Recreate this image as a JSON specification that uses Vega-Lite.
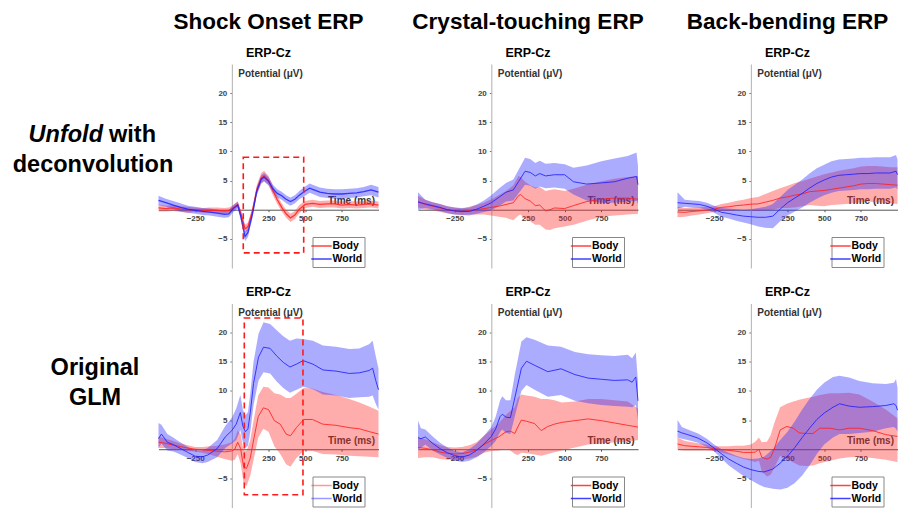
{
  "$schema": "https://vega.github.io/schema/vega-lite/v6.json",
  "background": "white",
  "padding": {"left": 0, "top": 11, "right": 0, "bottom": 0},
  "spacing": 17.5,
  "resolve": {"scale": {"stroke": "independent"}, "legend": {"stroke": "independent"}},
  "config": {
    "view": {"stroke": null},
    "font": "Liberation Sans",
    "title": {"font": "Liberation Sans", "fontSize": 22.5, "fontWeight": "bold", "color": "black", "subtitleFont": "Liberation Sans", "subtitleFontSize": 12.5, "subtitleFontWeight": "bold", "subtitleColor": "black", "subtitlePadding": 13, "offset": 5, "anchor": "middle", "frame": "group"},
    "axisX": {"offset": -58.29, "grid": false, "domainColor": "#555", "domainWidth": 1, "tickColor": "#555", "tickSize": 2, "labelFont": "Liberation Sans", "labelFontSize": 8, "labelFontWeight": "bold", "labelColor": "#444", "labelPadding": 3, "titleX": 216, "titleY": -9, "titleAlign": "right", "titleBaseline": "middle", "titleFont": "Liberation Sans", "titleFontSize": 10, "titleFontWeight": "bold", "titleColor": "#333", "zindex": 1},
    "axisY": {"offset": -73.33, "grid": false, "domainColor": "#b0b0b0", "domainWidth": 1, "tickColor": "#777", "tickSize": 2, "labelFont": "Liberation Sans", "labelFontSize": 8, "labelFontWeight": "bold", "labelColor": "#444", "labelPadding": 3, "titleAngle": 0, "titleX": 6, "titleY": 9, "titleAlign": "left", "titleBaseline": "middle", "titleFont": "Liberation Sans", "titleFontSize": 10, "titleFontWeight": "bold", "titleColor": "#333", "zindex": 1},
    "legend": {"orient": "none", "legendX": 154, "legendY": 173, "padding": 2, "strokeColor": "#888", "fillColor": "white", "labelFont": "Liberation Sans", "labelFontSize": 10.5, "labelFontWeight": "bold", "labelColor": "black", "labelOffset": 4, "symbolType": "M-1.7,0H1.7", "symbolSize": 144, "symbolStrokeWidth": 1.5, "rowPadding": 0}
  },
  "datasets": {
    "shockU": [
      {"c":"Body","t":-500,"m":0.3,"lo":-0.3,"hi":0.9},{"c":"Body","t":-450,"m":0.2,"lo":-0.3,"hi":0.7},{"c":"Body","t":-400,"m":0.3,"lo":-0.2,"hi":0.8},{"c":"Body","t":-350,"m":0.1,"lo":-0.4,"hi":0.6},{"c":"Body","t":-300,"m":0.0,"lo":-0.5,"hi":0.5},{"c":"Body","t":-250,"m":0.0,"lo":-0.4,"hi":0.4},{"c":"Body","t":-200,"m":-0.1,"lo":-0.5,"hi":0.3},{"c":"Body","t":-150,"m":-0.1,"lo":-0.5,"hi":0.4},{"c":"Body","t":-100,"m":-0.1,"lo":-0.6,"hi":0.4},{"c":"Body","t":-50,"m":-0.2,"lo":-0.7,"hi":0.3},{"c":"Body","t":-20,"m":-0.1,"lo":-0.6,"hi":0.4},{"c":"Body","t":10,"m":0.3,"lo":-0.2,"hi":0.8},{"c":"Body","t":40,"m":0.9,"lo":0.4,"hi":1.4},{"c":"Body","t":60,"m":-0.5,"lo":-1.1,"hi":0.1},{"c":"Body","t":90,"m":-3.3,"lo":-4.0,"hi":-2.6},{"c":"Body","t":110,"m":-2.9,"lo":-3.6,"hi":-2.2},{"c":"Body","t":140,"m":-0.3,"lo":-1.0,"hi":0.4},{"c":"Body","t":170,"m":3.4,"lo":2.6,"hi":4.2},{"c":"Body","t":200,"m":5.4,"lo":4.5,"hi":6.3},{"c":"Body","t":220,"m":5.8,"lo":4.9,"hi":6.7},{"c":"Body","t":250,"m":5.0,"lo":4.2,"hi":5.8},{"c":"Body","t":280,"m":3.3,"lo":2.5,"hi":4.1},{"c":"Body","t":310,"m":1.7,"lo":1.0,"hi":2.4},{"c":"Body","t":340,"m":0.4,"lo":-0.3,"hi":1.1},{"c":"Body","t":370,"m":-0.7,"lo":-1.4,"hi":0.0},{"c":"Body","t":400,"m":-1.4,"lo":-2.1,"hi":-0.7},{"c":"Body","t":430,"m":-0.9,"lo":-1.6,"hi":-0.2},{"c":"Body","t":460,"m":0.1,"lo":-0.6,"hi":0.8},{"c":"Body","t":500,"m":0.9,"lo":0.3,"hi":1.5},{"c":"Body","t":550,"m":1.1,"lo":0.5,"hi":1.7},{"c":"Body","t":600,"m":0.9,"lo":0.3,"hi":1.5},{"c":"Body","t":650,"m":1.0,"lo":0.4,"hi":1.6},{"c":"Body","t":700,"m":1.0,"lo":0.4,"hi":1.6},{"c":"Body","t":750,"m":0.8,"lo":0.2,"hi":1.4},{"c":"Body","t":800,"m":0.9,"lo":0.3,"hi":1.5},{"c":"Body","t":850,"m":0.8,"lo":0.2,"hi":1.4},{"c":"Body","t":900,"m":0.9,"lo":0.3,"hi":1.5},{"c":"Body","t":950,"m":1.0,"lo":0.4,"hi":1.6},{"c":"Body","t":1000,"m":0.8,"lo":0.2,"hi":1.4},
      {"c":"World","t":-500,"m":1.6,"lo":0.8,"hi":2.4},{"c":"World","t":-450,"m":1.2,"lo":0.5,"hi":1.9},{"c":"World","t":-400,"m":0.8,"lo":0.1,"hi":1.5},{"c":"World","t":-350,"m":0.4,"lo":-0.3,"hi":1.1},{"c":"World","t":-300,"m":0.1,"lo":-0.5,"hi":0.7},{"c":"World","t":-250,"m":-0.1,"lo":-0.7,"hi":0.5},{"c":"World","t":-200,"m":-0.3,"lo":-0.9,"hi":0.3},{"c":"World","t":-150,"m":-0.4,"lo":-1.0,"hi":0.2},{"c":"World","t":-100,"m":-0.6,"lo":-1.2,"hi":0.0},{"c":"World","t":-50,"m":-0.8,"lo":-1.4,"hi":-0.2},{"c":"World","t":-20,"m":-0.7,"lo":-1.3,"hi":-0.1},{"c":"World","t":10,"m":0.2,"lo":-0.4,"hi":0.8},{"c":"World","t":40,"m":0.8,"lo":0.2,"hi":1.4},{"c":"World","t":60,"m":-1.0,"lo":-1.7,"hi":-0.3},{"c":"World","t":90,"m":-4.6,"lo":-5.4,"hi":-3.8},{"c":"World","t":110,"m":-3.9,"lo":-4.7,"hi":-3.1},{"c":"World","t":140,"m":-0.8,"lo":-1.5,"hi":-0.1},{"c":"World","t":170,"m":3.2,"lo":2.5,"hi":3.9},{"c":"World","t":200,"m":5.2,"lo":4.5,"hi":5.9},{"c":"World","t":220,"m":5.6,"lo":4.9,"hi":6.3},{"c":"World","t":250,"m":4.9,"lo":4.2,"hi":5.6},{"c":"World","t":280,"m":3.6,"lo":2.9,"hi":4.3},{"c":"World","t":310,"m":2.8,"lo":2.1,"hi":3.5},{"c":"World","t":340,"m":2.4,"lo":1.7,"hi":3.1},{"c":"World","t":370,"m":1.8,"lo":1.1,"hi":2.5},{"c":"World","t":400,"m":1.4,"lo":0.7,"hi":2.1},{"c":"World","t":430,"m":1.8,"lo":1.1,"hi":2.5},{"c":"World","t":460,"m":2.5,"lo":1.8,"hi":3.2},{"c":"World","t":500,"m":3.2,"lo":2.4,"hi":4.0},{"c":"World","t":530,"m":3.7,"lo":2.9,"hi":4.5},{"c":"World","t":560,"m":3.4,"lo":2.6,"hi":4.2},{"c":"World","t":600,"m":3.0,"lo":2.2,"hi":3.8},{"c":"World","t":650,"m":2.8,"lo":2.0,"hi":3.6},{"c":"World","t":700,"m":2.7,"lo":1.9,"hi":3.5},{"c":"World","t":750,"m":2.7,"lo":1.9,"hi":3.5},{"c":"World","t":800,"m":2.8,"lo":2.0,"hi":3.6},{"c":"World","t":850,"m":2.9,"lo":2.1,"hi":3.7},{"c":"World","t":900,"m":3.1,"lo":2.3,"hi":3.9},{"c":"World","t":950,"m":3.4,"lo":2.5,"hi":4.3},{"c":"World","t":1000,"m":3.0,"lo":2.1,"hi":3.9}
    ],
    "crystalU": [
      {"c":"Body","t":-500,"m":1.4,"lo":0.4,"hi":2.4},{"c":"Body","t":-450,"m":0.9,"lo":0.1,"hi":1.7},{"c":"Body","t":-400,"m":0.6,"lo":-0.1,"hi":1.3},{"c":"Body","t":-350,"m":0.3,"lo":-0.4,"hi":1.0},{"c":"Body","t":-300,"m":0.0,"lo":-0.6,"hi":0.6},{"c":"Body","t":-250,"m":-0.2,"lo":-0.8,"hi":0.4},{"c":"Body","t":-200,"m":-0.35,"lo":-0.9,"hi":0.2},{"c":"Body","t":-150,"m":-0.15,"lo":-0.8,"hi":0.5},{"c":"Body","t":-100,"m":0.0,"lo":-0.8,"hi":0.8},{"c":"Body","t":-50,"m":0.2,"lo":-0.8,"hi":1.2},{"c":"Body","t":0,"m":0.4,"lo":-1.0,"hi":1.8},{"c":"Body","t":50,"m":0.6,"lo":-1.2,"hi":2.5},{"c":"Body","t":100,"m":0.9,"lo":-1.4,"hi":3.2},{"c":"Body","t":150,"m":1.2,"lo":-1.8,"hi":4.2},{"c":"Body","t":185,"m":2.4,"lo":-1.0,"hi":5.8},{"c":"Body","t":200,"m":2.6,"lo":-0.8,"hi":5.6},{"c":"Body","t":230,"m":1.9,"lo":-1.6,"hi":4.8},{"c":"Body","t":265,"m":1.5,"lo":-2.0,"hi":4.2},{"c":"Body","t":300,"m":0.7,"lo":-2.6,"hi":3.8},{"c":"Body","t":330,"m":0.8,"lo":-2.6,"hi":3.9},{"c":"Body","t":370,"m":-0.2,"lo":-3.4,"hi":3.2},{"c":"Body","t":400,"m":0.0,"lo":-3.5,"hi":3.4},{"c":"Body","t":430,"m":0.3,"lo":-3.2,"hi":3.5},{"c":"Body","t":500,"m":0.2,"lo":-2.9,"hi":3.2},{"c":"Body","t":560,"m":0.7,"lo":-2.6,"hi":3.6},{"c":"Body","t":650,"m":1.4,"lo":-1.9,"hi":4.3},{"c":"Body","t":750,"m":1.8,"lo":-1.2,"hi":4.9},{"c":"Body","t":840,"m":2.0,"lo":-1.0,"hi":5.3},{"c":"Body","t":930,"m":2.0,"lo":-0.8,"hi":5.6},{"c":"Body","t":1000,"m":1.8,"lo":-0.7,"hi":5.8},
      {"c":"World","t":-500,"m":1.3,"lo":0.0,"hi":3.0},{"c":"World","t":-450,"m":1.0,"lo":0.3,"hi":1.7},{"c":"World","t":-400,"m":0.7,"lo":0.1,"hi":1.3},{"c":"World","t":-350,"m":0.4,"lo":-0.2,"hi":1.0},{"c":"World","t":-300,"m":0.0,"lo":-0.6,"hi":0.6},{"c":"World","t":-250,"m":-0.2,"lo":-0.8,"hi":0.4},{"c":"World","t":-200,"m":-0.3,"lo":-0.9,"hi":0.3},{"c":"World","t":-150,"m":-0.3,"lo":-1.0,"hi":0.4},{"c":"World","t":-100,"m":0.1,"lo":-0.7,"hi":0.9},{"c":"World","t":-50,"m":0.6,"lo":-0.4,"hi":1.6},{"c":"World","t":0,"m":1.2,"lo":-0.1,"hi":2.5},{"c":"World","t":50,"m":2.1,"lo":0.6,"hi":3.6},{"c":"World","t":100,"m":3.0,"lo":1.4,"hi":4.6},{"c":"World","t":150,"m":3.4,"lo":1.6,"hi":5.2},{"c":"World","t":185,"m":4.8,"lo":2.8,"hi":6.8},{"c":"World","t":230,"m":6.6,"lo":4.3,"hi":8.9},{"c":"World","t":265,"m":6.4,"lo":4.1,"hi":8.7},{"c":"World","t":300,"m":5.8,"lo":3.6,"hi":8.0},{"c":"World","t":330,"m":6.2,"lo":4.0,"hi":8.4},{"c":"World","t":370,"m":5.8,"lo":3.7,"hi":7.9},{"c":"World","t":430,"m":6.0,"lo":3.8,"hi":8.0},{"c":"World","t":500,"m":6.0,"lo":3.6,"hi":7.8},{"c":"World","t":560,"m":4.8,"lo":2.6,"hi":7.2},{"c":"World","t":650,"m":4.4,"lo":1.6,"hi":7.6},{"c":"World","t":750,"m":4.6,"lo":1.2,"hi":8.3},{"c":"World","t":840,"m":4.8,"lo":1.2,"hi":8.8},{"c":"World","t":930,"m":5.4,"lo":1.4,"hi":9.2},{"c":"World","t":990,"m":5.7,"lo":1.5,"hi":9.8},{"c":"World","t":1000,"m":4.3,"lo":1.0,"hi":7.5}
    ],
    "backU": [
      {"c":"Body","t":-500,"m":-0.4,"lo":-1.3,"hi":0.5},{"c":"Body","t":-450,"m":-0.45,"lo":-1.2,"hi":0.3},{"c":"Body","t":-400,"m":-0.3,"lo":-1.0,"hi":0.4},{"c":"Body","t":-350,"m":-0.2,"lo":-0.8,"hi":0.4},{"c":"Body","t":-300,"m":-0.05,"lo":-0.6,"hi":0.5},{"c":"Body","t":-250,"m":0.1,"lo":-0.4,"hi":0.6},{"c":"Body","t":-200,"m":0.4,"lo":-0.2,"hi":1.0},{"c":"Body","t":-150,"m":0.5,"lo":-0.2,"hi":1.2},{"c":"Body","t":-100,"m":0.7,"lo":-0.1,"hi":1.5},{"c":"Body","t":-50,"m":0.8,"lo":-0.1,"hi":1.7},{"c":"Body","t":0,"m":0.95,"lo":-0.1,"hi":2.0},{"c":"Body","t":50,"m":1.0,"lo":-0.2,"hi":2.2},{"c":"Body","t":100,"m":1.3,"lo":-0.1,"hi":2.7},{"c":"Body","t":150,"m":1.6,"lo":0.0,"hi":3.2},{"c":"Body","t":200,"m":2.0,"lo":0.3,"hi":3.7},{"c":"Body","t":250,"m":2.2,"lo":0.3,"hi":4.1},{"c":"Body","t":300,"m":2.5,"lo":0.4,"hi":4.6},{"c":"Body","t":350,"m":2.7,"lo":0.6,"hi":4.9},{"c":"Body","t":400,"m":3.1,"lo":0.8,"hi":5.3},{"c":"Body","t":450,"m":3.2,"lo":0.7,"hi":5.7},{"c":"Body","t":500,"m":3.3,"lo":0.6,"hi":6.1},{"c":"Body","t":550,"m":3.5,"lo":0.8,"hi":6.4},{"c":"Body","t":600,"m":3.7,"lo":0.9,"hi":6.7},{"c":"Body","t":650,"m":3.9,"lo":1.0,"hi":6.9},{"c":"Body","t":700,"m":4.1,"lo":1.1,"hi":7.1},{"c":"Body","t":750,"m":4.4,"lo":1.3,"hi":7.4},{"c":"Body","t":800,"m":4.5,"lo":1.4,"hi":7.5},{"c":"Body","t":850,"m":4.5,"lo":1.3,"hi":7.5},{"c":"Body","t":900,"m":4.4,"lo":1.2,"hi":7.4},{"c":"Body","t":950,"m":4.3,"lo":1.1,"hi":7.3},{"c":"Body","t":1000,"m":4.2,"lo":1.0,"hi":7.3},
      {"c":"World","t":-500,"m":1.2,"lo":0.2,"hi":3.0},{"c":"World","t":-450,"m":1.1,"lo":0.5,"hi":1.7},{"c":"World","t":-400,"m":1.0,"lo":0.4,"hi":1.6},{"c":"World","t":-350,"m":0.9,"lo":0.3,"hi":1.5},{"c":"World","t":-300,"m":0.6,"lo":0.0,"hi":1.2},{"c":"World","t":-250,"m":0.1,"lo":-0.5,"hi":0.7},{"c":"World","t":-200,"m":-0.45,"lo":-1.2,"hi":0.3},{"c":"World","t":-150,"m":-0.65,"lo":-1.5,"hi":0.2},{"c":"World","t":-100,"m":-0.9,"lo":-1.9,"hi":0.1},{"c":"World","t":-50,"m":-1.1,"lo":-2.2,"hi":0.0},{"c":"World","t":0,"m":-1.2,"lo":-2.5,"hi":0.1},{"c":"World","t":50,"m":-1.3,"lo":-2.9,"hi":0.3},{"c":"World","t":100,"m":-1.3,"lo":-3.1,"hi":0.5},{"c":"World","t":150,"m":-1.1,"lo":-3.2,"hi":1.0},{"c":"World","t":200,"m":0.1,"lo":-2.0,"hi":2.2},{"c":"World","t":250,"m":1.2,"lo":-1.0,"hi":3.4},{"c":"World","t":300,"m":2.0,"lo":-0.3,"hi":4.3},{"c":"World","t":350,"m":2.8,"lo":0.4,"hi":5.2},{"c":"World","t":400,"m":3.7,"lo":1.2,"hi":6.2},{"c":"World","t":450,"m":4.5,"lo":1.9,"hi":7.1},{"c":"World","t":500,"m":5.1,"lo":2.5,"hi":7.7},{"c":"World","t":550,"m":5.6,"lo":2.9,"hi":8.3},{"c":"World","t":600,"m":5.9,"lo":3.2,"hi":8.6},{"c":"World","t":650,"m":6.0,"lo":3.3,"hi":8.7},{"c":"World","t":700,"m":6.1,"lo":3.4,"hi":8.8},{"c":"World","t":750,"m":6.2,"lo":3.5,"hi":8.9},{"c":"World","t":800,"m":6.2,"lo":3.5,"hi":8.9},{"c":"World","t":850,"m":6.3,"lo":3.6,"hi":9.0},{"c":"World","t":900,"m":6.3,"lo":3.6,"hi":9.0},{"c":"World","t":950,"m":6.3,"lo":3.6,"hi":9.0},{"c":"World","t":990,"m":6.6,"lo":3.8,"hi":9.4},{"c":"World","t":1000,"m":6.0,"lo":3.4,"hi":8.6}
    ],
    "shockG": [
      {"c":"Body","t":-500,"m":1.2,"lo":0.2,"hi":2.2},{"c":"Body","t":-450,"m":1.0,"lo":0.2,"hi":1.8},{"c":"Body","t":-400,"m":0.7,"lo":0.0,"hi":1.4},{"c":"Body","t":-350,"m":0.45,"lo":-0.1,"hi":1.0},{"c":"Body","t":-300,"m":0.2,"lo":-0.3,"hi":0.7},{"c":"Body","t":-250,"m":0.0,"lo":-0.4,"hi":0.4},{"c":"Body","t":-200,"m":-0.1,"lo":-0.6,"hi":0.4},{"c":"Body","t":-150,"m":-0.2,"lo":-0.9,"hi":0.5},{"c":"Body","t":-100,"m":-0.35,"lo":-1.3,"hi":0.6},{"c":"Body","t":-50,"m":-0.45,"lo":-1.7,"hi":0.8},{"c":"Body","t":0,"m":-0.3,"lo":-2.0,"hi":1.2},{"c":"Body","t":20,"m":0.0,"lo":-1.8,"hi":1.8},{"c":"Body","t":40,"m":1.2,"lo":-0.8,"hi":3.2},{"c":"Body","t":60,"m":0.1,"lo":-2.4,"hi":2.6},{"c":"Body","t":80,"m":-3.0,"lo":-5.8,"hi":-0.2},{"c":"Body","t":100,"m":-3.3,"lo":-6.3,"hi":-0.3},{"c":"Body","t":125,"m":-1.6,"lo":-4.6,"hi":1.5},{"c":"Body","t":150,"m":1.8,"lo":-1.6,"hi":5.2},{"c":"Body","t":180,"m":5.6,"lo":2.0,"hi":9.2},{"c":"Body","t":215,"m":7.1,"lo":3.5,"hi":10.7},{"c":"Body","t":250,"m":6.8,"lo":3.0,"hi":10.6},{"c":"Body","t":290,"m":4.9,"lo":0.5,"hi":9.6},{"c":"Body","t":330,"m":4.3,"lo":-0.8,"hi":9.4},{"c":"Body","t":370,"m":2.6,"lo":-2.6,"hi":8.8},{"c":"Body","t":400,"m":2.3,"lo":-3.0,"hi":8.8},{"c":"Body","t":440,"m":3.7,"lo":-1.5,"hi":9.5},{"c":"Body","t":490,"m":5.1,"lo":-0.3,"hi":10.5},{"c":"Body","t":550,"m":5.1,"lo":-0.3,"hi":10.4},{"c":"Body","t":620,"m":4.3,"lo":-0.8,"hi":9.8},{"c":"Body","t":710,"m":4.1,"lo":-0.9,"hi":9.3},{"c":"Body","t":800,"m":3.7,"lo":-1.1,"hi":8.6},{"c":"Body","t":870,"m":3.5,"lo":-1.2,"hi":8.0},{"c":"Body","t":940,"m":3.0,"lo":-1.3,"hi":7.3},{"c":"Body","t":1000,"m":2.6,"lo":-1.4,"hi":6.6},
      {"c":"World","t":-500,"m":1.8,"lo":0.2,"hi":4.5},{"c":"World","t":-480,"m":2.6,"lo":1.0,"hi":4.2},{"c":"World","t":-440,"m":1.2,"lo":-0.2,"hi":2.6},{"c":"World","t":-400,"m":0.8,"lo":-0.4,"hi":2.0},{"c":"World","t":-370,"m":0.4,"lo":-0.7,"hi":1.5},{"c":"World","t":-300,"m":-0.55,"lo":-1.5,"hi":0.4},{"c":"World","t":-250,"m":-1.2,"lo":-2.2,"hi":-0.2},{"c":"World","t":-200,"m":-1.3,"lo":-2.4,"hi":-0.2},{"c":"World","t":-165,"m":-1.0,"lo":-2.2,"hi":0.2},{"c":"World","t":-100,"m":0.1,"lo":-1.4,"hi":1.6},{"c":"World","t":-45,"m":2.1,"lo":0.2,"hi":4.0},{"c":"World","t":0,"m":3.2,"lo":1.0,"hi":5.4},{"c":"World","t":30,"m":4.3,"lo":1.6,"hi":7.0},{"c":"World","t":58,"m":6.3,"lo":3.3,"hi":9.3},{"c":"World","t":75,"m":4.0,"lo":1.2,"hi":6.8},{"c":"World","t":92,"m":3.0,"lo":0.2,"hi":5.8},{"c":"World","t":110,"m":3.5,"lo":0.6,"hi":6.4},{"c":"World","t":126,"m":6.3,"lo":3.0,"hi":9.6},{"c":"World","t":148,"m":11.3,"lo":7.6,"hi":15.0},{"c":"World","t":182,"m":15.8,"lo":11.8,"hi":19.8},{"c":"World","t":216,"m":17.5,"lo":13.2,"hi":21.8},{"c":"World","t":261,"m":17.3,"lo":13.0,"hi":21.5},{"c":"World","t":306,"m":16.0,"lo":11.6,"hi":20.4},{"c":"World","t":351,"m":14.9,"lo":10.5,"hi":19.4},{"c":"World","t":396,"m":14.1,"lo":9.7,"hi":18.6},{"c":"World","t":441,"m":14.6,"lo":10.2,"hi":19.0},{"c":"World","t":486,"m":15.2,"lo":10.7,"hi":18.9},{"c":"World","t":553,"m":14.6,"lo":10.3,"hi":18.6},{"c":"World","t":621,"m":13.6,"lo":9.4,"hi":17.8},{"c":"World","t":711,"m":13.4,"lo":9.2,"hi":17.6},{"c":"World","t":801,"m":13.0,"lo":8.8,"hi":17.2},{"c":"World","t":868,"m":13.1,"lo":8.9,"hi":17.3},{"c":"World","t":936,"m":13.5,"lo":9.0,"hi":18.0},{"c":"World","t":960,"m":13.9,"lo":9.2,"hi":18.6},{"c":"World","t":981,"m":11.8,"lo":7.8,"hi":16.0},{"c":"World","t":1000,"m":10.2,"lo":6.8,"hi":13.8}
    ],
    "crystalG": [
      {"c":"Body","t":-500,"m":0.3,"lo":-1.5,"hi":2.0},{"c":"Body","t":-450,"m":0.15,"lo":-1.4,"hi":1.7},{"c":"Body","t":-400,"m":-0.1,"lo":-1.4,"hi":1.2},{"c":"Body","t":-350,"m":-0.5,"lo":-1.7,"hi":0.7},{"c":"Body","t":-300,"m":-0.7,"lo":-1.8,"hi":0.4},{"c":"Body","t":-250,"m":-0.8,"lo":-1.9,"hi":0.3},{"c":"Body","t":-200,"m":-0.75,"lo":-1.8,"hi":0.4},{"c":"Body","t":-150,"m":-0.5,"lo":-1.6,"hi":0.7},{"c":"Body","t":-100,"m":-0.1,"lo":-1.3,"hi":1.2},{"c":"Body","t":-50,"m":0.8,"lo":-0.6,"hi":2.3},{"c":"Body","t":0,"m":1.5,"lo":-0.3,"hi":3.4},{"c":"Body","t":50,"m":2.1,"lo":-0.2,"hi":4.4},{"c":"Body","t":100,"m":3.0,"lo":0.1,"hi":5.9},{"c":"Body","t":130,"m":3.1,"lo":-0.2,"hi":6.6},{"c":"Body","t":160,"m":2.7,"lo":-0.8,"hi":7.2},{"c":"Body","t":180,"m":3.8,"lo":-1.0,"hi":8.8},{"c":"Body","t":205,"m":5.0,"lo":-0.6,"hi":9.4},{"c":"Body","t":240,"m":4.8,"lo":-0.7,"hi":9.2},{"c":"Body","t":295,"m":4.4,"lo":-0.9,"hi":9.0},{"c":"Body","t":340,"m":3.2,"lo":-1.1,"hi":8.6},{"c":"Body","t":385,"m":3.9,"lo":-0.8,"hi":8.6},{"c":"Body","t":430,"m":4.3,"lo":-0.5,"hi":8.4},{"c":"Body","t":480,"m":4.6,"lo":-0.2,"hi":8.0},{"c":"Body","t":570,"m":4.9,"lo":0.3,"hi":8.2},{"c":"Body","t":660,"m":5.2,"lo":0.8,"hi":8.6},{"c":"Body","t":750,"m":4.9,"lo":1.0,"hi":8.6},{"c":"Body","t":840,"m":4.5,"lo":1.2,"hi":8.4},{"c":"Body","t":930,"m":4.1,"lo":1.3,"hi":8.2},{"c":"Body","t":1000,"m":3.8,"lo":1.6,"hi":7.0},
      {"c":"World","t":-500,"m":2.0,"lo":0.0,"hi":4.9},{"c":"World","t":-480,"m":1.8,"lo":0.2,"hi":3.6},{"c":"World","t":-450,"m":2.1,"lo":0.8,"hi":3.4},{"c":"World","t":-400,"m":1.0,"lo":-0.2,"hi":2.2},{"c":"World","t":-350,"m":0.1,"lo":-0.9,"hi":1.1},{"c":"World","t":-300,"m":-0.6,"lo":-1.5,"hi":0.3},{"c":"World","t":-250,"m":-1.1,"lo":-1.9,"hi":-0.3},{"c":"World","t":-200,"m":-1.35,"lo":-2.2,"hi":-0.5},{"c":"World","t":-150,"m":-1.0,"lo":-2.0,"hi":0.0},{"c":"World","t":-100,"m":-0.2,"lo":-1.4,"hi":1.0},{"c":"World","t":-50,"m":0.9,"lo":-0.5,"hi":2.3},{"c":"World","t":0,"m":2.2,"lo":0.6,"hi":3.8},{"c":"World","t":30,"m":3.5,"lo":1.4,"hi":5.6},{"c":"World","t":60,"m":5.6,"lo":3.0,"hi":8.4},{"c":"World","t":75,"m":6.0,"lo":3.4,"hi":9.1},{"c":"World","t":100,"m":5.5,"lo":2.8,"hi":8.4},{"c":"World","t":130,"m":5.4,"lo":2.6,"hi":8.4},{"c":"World","t":160,"m":8.8,"lo":5.6,"hi":12.8},{"c":"World","t":205,"m":13.9,"lo":10.0,"hi":18.5},{"c":"World","t":240,"m":15.1,"lo":11.0,"hi":19.2},{"c":"World","t":295,"m":14.4,"lo":10.2,"hi":18.8},{"c":"World","t":385,"m":13.3,"lo":9.0,"hi":17.8},{"c":"World","t":475,"m":13.8,"lo":9.3,"hi":17.6},{"c":"World","t":570,"m":12.8,"lo":8.3,"hi":16.7},{"c":"World","t":660,"m":12.2,"lo":7.9,"hi":16.3},{"c":"World","t":750,"m":12.0,"lo":7.6,"hi":16.1},{"c":"World","t":840,"m":11.8,"lo":7.4,"hi":16.0},{"c":"World","t":930,"m":11.9,"lo":7.3,"hi":16.2},{"c":"World","t":960,"m":11.5,"lo":7.2,"hi":15.6},{"c":"World","t":985,"m":12.4,"lo":7.6,"hi":16.6},{"c":"World","t":1000,"m":8.3,"lo":5.0,"hi":11.5}
    ],
    "backG": [
      {"c":"Body","t":-500,"m":0.9,"lo":-0.1,"hi":2.0},{"c":"Body","t":-450,"m":0.6,"lo":-0.2,"hi":1.4},{"c":"Body","t":-400,"m":0.5,"lo":-0.2,"hi":1.2},{"c":"Body","t":-350,"m":0.4,"lo":-0.2,"hi":1.0},{"c":"Body","t":-300,"m":0.3,"lo":-0.2,"hi":0.8},{"c":"Body","t":-250,"m":0.1,"lo":-0.3,"hi":0.5},{"c":"Body","t":-200,"m":-0.05,"lo":-0.6,"hi":0.5},{"c":"Body","t":-150,"m":-0.2,"lo":-0.9,"hi":0.5},{"c":"Body","t":-100,"m":-0.35,"lo":-1.3,"hi":0.6},{"c":"Body","t":-50,"m":-0.55,"lo":-1.7,"hi":0.6},{"c":"Body","t":0,"m":-0.55,"lo":-2.0,"hi":0.8},{"c":"Body","t":30,"m":-0.5,"lo":-2.2,"hi":1.3},{"c":"Body","t":55,"m":0.0,"lo":-2.0,"hi":2.0},{"c":"Body","t":75,"m":-1.4,"lo":-3.8,"hi":1.2},{"c":"Body","t":110,"m":-1.7,"lo":-4.7,"hi":1.3},{"c":"Body","t":135,"m":-1.4,"lo":-4.4,"hi":2.4},{"c":"Body","t":160,"m":0.0,"lo":-3.2,"hi":4.5},{"c":"Body","t":200,"m":3.3,"lo":-1.1,"hi":7.2},{"c":"Body","t":245,"m":3.9,"lo":-1.7,"hi":7.8},{"c":"Body","t":290,"m":3.6,"lo":-2.3,"hi":8.2},{"c":"Body","t":330,"m":2.8,"lo":-2.8,"hi":8.5},{"c":"Body","t":380,"m":2.7,"lo":-2.9,"hi":8.8},{"c":"Body","t":425,"m":2.7,"lo":-2.8,"hi":9.0},{"c":"Body","t":470,"m":3.6,"lo":-2.4,"hi":9.3},{"c":"Body","t":540,"m":3.6,"lo":-2.0,"hi":9.6},{"c":"Body","t":605,"m":3.3,"lo":-1.6,"hi":9.6},{"c":"Body","t":670,"m":3.6,"lo":-1.4,"hi":9.7},{"c":"Body","t":740,"m":3.6,"lo":-1.3,"hi":9.4},{"c":"Body","t":830,"m":3.2,"lo":-1.5,"hi":8.2},{"c":"Body","t":920,"m":2.5,"lo":-1.8,"hi":6.8},{"c":"Body","t":1000,"m":2.2,"lo":-2.2,"hi":5.3},
      {"c":"World","t":-500,"m":3.1,"lo":2.0,"hi":5.0},{"c":"World","t":-470,"m":2.8,"lo":1.8,"hi":3.8},{"c":"World","t":-430,"m":2.5,"lo":1.6,"hi":3.4},{"c":"World","t":-360,"m":1.9,"lo":1.1,"hi":2.7},{"c":"World","t":-300,"m":1.1,"lo":0.4,"hi":1.8},{"c":"World","t":-250,"m":0.2,"lo":-0.4,"hi":0.8},{"c":"World","t":-200,"m":-0.8,"lo":-1.6,"hi":0.0},{"c":"World","t":-150,"m":-1.7,"lo":-2.8,"hi":-0.6},{"c":"World","t":-100,"m":-2.4,"lo":-3.7,"hi":-1.1},{"c":"World","t":-50,"m":-3.05,"lo":-4.6,"hi":-1.5},{"c":"World","t":0,"m":-3.5,"lo":-5.3,"hi":-1.7},{"c":"World","t":50,"m":-3.8,"lo":-6.0,"hi":-1.6},{"c":"World","t":90,"m":-3.9,"lo":-6.5,"hi":-1.3},{"c":"World","t":150,"m":-3.4,"lo":-6.8,"hi":0.0},{"c":"World","t":200,"m":-2.4,"lo":-6.9,"hi":1.6},{"c":"World","t":250,"m":-1.2,"lo":-6.6,"hi":3.0},{"c":"World","t":300,"m":0.3,"lo":-5.8,"hi":4.8},{"c":"World","t":350,"m":2.0,"lo":-4.5,"hi":6.8},{"c":"World","t":400,"m":3.6,"lo":-2.8,"hi":8.6},{"c":"World","t":450,"m":5.1,"lo":-0.8,"hi":10.2},{"c":"World","t":500,"m":6.2,"lo":0.8,"hi":11.4},{"c":"World","t":560,"m":7.2,"lo":2.0,"hi":12.4},{"c":"World","t":605,"m":7.8,"lo":2.6,"hi":12.6},{"c":"World","t":670,"m":7.4,"lo":2.6,"hi":12.3},{"c":"World","t":740,"m":7.2,"lo":2.8,"hi":11.7},{"c":"World","t":830,"m":7.3,"lo":3.0,"hi":11.3},{"c":"World","t":920,"m":7.5,"lo":3.6,"hi":11.2},{"c":"World","t":975,"m":7.8,"lo":3.8,"hi":11.4},{"c":"World","t":990,"m":7.5,"lo":3.5,"hi":12.0},{"c":"World","t":1000,"m":6.7,"lo":3.0,"hi":10.5}
    ]
  },
  "vconcat": [
    {
      "bounds": "flush",
      "spacing": 39.5,
      "resolve": {"scale": {"stroke": "independent"}, "legend": {"stroke": "independent"}},
      "hconcat": [
        {
          "width": 118.5, "height": 204,
          "layer": [
            {"data": {"values": [{"label": "Unfold"}]}, "mark": {"type": "text", "x": 103, "y": 71, "align": "right", "baseline": "middle", "font": "Liberation Sans", "fontSize": 23.5, "fontWeight": "bold", "fontStyle": "italic"}, "encoding": {"text": {"field": "label"}}},
            {"data": {"values": [{"label": "with"}]}, "mark": {"type": "text", "x": 109, "y": 71, "align": "left", "baseline": "middle", "font": "Liberation Sans", "fontSize": 23.5, "fontWeight": "bold"}, "encoding": {"text": {"field": "label"}}},
            {"data": {"values": [{"label": "deconvolution"}]}, "mark": {"type": "text", "x": 93, "y": 101, "align": "center", "baseline": "middle", "font": "Liberation Sans", "fontSize": 23.5, "fontWeight": "bold"}, "encoding": {"text": {"field": "label"}}}
          ]
        },
        {
          "width": 220, "height": 204,
          "title": {"text": "Shock Onset ERP", "subtitle": "ERP-Cz"},
          "data": {"name": "shockU"},
          "encoding": {"x": {"field": "t", "type": "quantitative", "title": "Time (ms)", "scale": {"domain": [-500, 1000], "nice": false, "zero": false}, "axis": {"values": [-250, 250, 500, 750]}}},
          "layer": [
            {"transform": [{"filter": "datum.c === 'Body'"}], "mark": {"type": "area", "opacity": 0.4, "color": "#ff3030"}, "encoding": {"y": {"field": "lo", "type": "quantitative", "title": "Potential (μV)", "scale": {"domain": [-10, 25], "nice": false, "zero": false}, "axis": {"values": [-5, 5, 10, 15, 20]}}, "y2": {"field": "hi"}}},
            {"transform": [{"filter": "datum.c === 'World'"}], "mark": {"type": "area", "opacity": 0.4, "color": "#3030ff"}, "encoding": {"y": {"field": "lo", "type": "quantitative", "title": "Potential (μV)"}, "y2": {"field": "hi"}}},
            {"mark": {"type": "line", "strokeWidth": 1.3, "opacity": 0.85}, "encoding": {"y": {"field": "m", "type": "quantitative", "title": "Potential (μV)"}, "stroke": {"field": "c", "type": "nominal", "scale": {"domain": ["Body", "World"], "range": ["#ff2020", "#2020ff"]}, "legend": {"title": null}}}},
            {"data": {"values": [{"t0": 78, "t1": 490, "v0": -7.4, "v1": 9.0}]}, "mark": {"type": "rect", "filled": false, "stroke": "#ff1a1a", "strokeWidth": 1.6, "strokeDash": [6, 4]}, "encoding": {"x": {"field": "t0", "type": "quantitative", "title": "Time (ms)"}, "x2": {"field": "t1"}, "y": {"field": "v0", "type": "quantitative", "title": "Potential (μV)"}, "y2": {"field": "v1"}}}
          ]
        },
        {
          "width": 220, "height": 204,
          "title": {"text": "Crystal-touching ERP", "subtitle": "ERP-Cz"},
          "data": {"name": "crystalU"},
          "encoding": {"x": {"field": "t", "type": "quantitative", "title": "Time (ms)", "scale": {"domain": [-500, 1000], "nice": false, "zero": false}, "axis": {"values": [-250, 250, 500, 750]}}},
          "layer": [
            {"transform": [{"filter": "datum.c === 'Body'"}], "mark": {"type": "area", "opacity": 0.4, "color": "#ff3030"}, "encoding": {"y": {"field": "lo", "type": "quantitative", "title": "Potential (μV)", "scale": {"domain": [-10, 25], "nice": false, "zero": false}, "axis": {"values": [-5, 5, 10, 15, 20]}}, "y2": {"field": "hi"}}},
            {"transform": [{"filter": "datum.c === 'World'"}], "mark": {"type": "area", "opacity": 0.4, "color": "#3030ff"}, "encoding": {"y": {"field": "lo", "type": "quantitative", "title": "Potential (μV)"}, "y2": {"field": "hi"}}},
            {"mark": {"type": "line", "strokeWidth": 1, "opacity": 0.85}, "encoding": {"y": {"field": "m", "type": "quantitative", "title": "Potential (μV)"}, "stroke": {"field": "c", "type": "nominal", "scale": {"domain": ["Body", "World"], "range": ["#ff2020", "#2020ff"]}, "legend": {"title": null}}}}
          ]
        },
        {
          "width": 220, "height": 204,
          "title": {"text": "Back-bending ERP", "subtitle": "ERP-Cz"},
          "data": {"name": "backU"},
          "encoding": {"x": {"field": "t", "type": "quantitative", "title": "Time (ms)", "scale": {"domain": [-500, 1000], "nice": false, "zero": false}, "axis": {"values": [-250, 250, 500, 750]}}},
          "layer": [
            {"transform": [{"filter": "datum.c === 'Body'"}], "mark": {"type": "area", "opacity": 0.4, "color": "#ff3030"}, "encoding": {"y": {"field": "lo", "type": "quantitative", "title": "Potential (μV)", "scale": {"domain": [-10, 25], "nice": false, "zero": false}, "axis": {"values": [-5, 5, 10, 15, 20]}}, "y2": {"field": "hi"}}},
            {"transform": [{"filter": "datum.c === 'World'"}], "mark": {"type": "area", "opacity": 0.4, "color": "#3030ff"}, "encoding": {"y": {"field": "lo", "type": "quantitative", "title": "Potential (μV)"}, "y2": {"field": "hi"}}},
            {"mark": {"type": "line", "strokeWidth": 1, "opacity": 0.85}, "encoding": {"y": {"field": "m", "type": "quantitative", "title": "Potential (μV)"}, "stroke": {"field": "c", "type": "nominal", "scale": {"domain": ["Body", "World"], "range": ["#ff2020", "#2020ff"]}, "legend": {"title": null}}}}
          ]
        }
      ]
    },
    {
      "bounds": "flush",
      "spacing": 39.5,
      "resolve": {"scale": {"stroke": "independent"}, "legend": {"stroke": "independent"}},
      "hconcat": [
        {
          "width": 118.5, "height": 204,
          "layer": [
            {"data": {"values": [{"label": "Original"}]}, "mark": {"type": "text", "x": 95, "y": 64, "align": "center", "baseline": "middle", "font": "Liberation Sans", "fontSize": 23.5, "fontWeight": "bold"}, "encoding": {"text": {"field": "label"}}},
            {"data": {"values": [{"label": "GLM"}]}, "mark": {"type": "text", "x": 95, "y": 94, "align": "center", "baseline": "middle", "font": "Liberation Sans", "fontSize": 23.5, "fontWeight": "bold"}, "encoding": {"text": {"field": "label"}}}
          ]
        },
        {
          "width": 220, "height": 204,
          "title": {"text": "ERP-Cz", "fontSize": 12.5},
          "data": {"name": "shockG"},
          "encoding": {"x": {"field": "t", "type": "quantitative", "title": "Time (ms)", "scale": {"domain": [-500, 1000], "nice": false, "zero": false}, "axis": {"values": [-250, 250, 500, 750]}}},
          "layer": [
            {"transform": [{"filter": "datum.c === 'Body'"}], "mark": {"type": "area", "opacity": 0.4, "color": "#ff3030"}, "encoding": {"y": {"field": "lo", "type": "quantitative", "title": "Potential (μV)", "scale": {"domain": [-10, 25], "nice": false, "zero": false}, "axis": {"values": [-5, 5, 10, 15, 20]}}, "y2": {"field": "hi"}}},
            {"transform": [{"filter": "datum.c === 'World'"}], "mark": {"type": "area", "opacity": 0.4, "color": "#3030ff"}, "encoding": {"y": {"field": "lo", "type": "quantitative", "title": "Potential (μV)"}, "y2": {"field": "hi"}}},
            {"mark": {"type": "line", "strokeWidth": 1, "opacity": 0.85}, "encoding": {"y": {"field": "m", "type": "quantitative", "title": "Potential (μV)"}, "stroke": {"field": "c", "type": "nominal", "scale": {"domain": ["Body", "World"], "range": ["#ff2020", "#2020ff"]}, "legend": {"title": null, "symbolOpacity": 0.45}}}},
            {"data": {"values": [{"t0": 85, "t1": 485, "v0": -7.8, "v1": 22.5}]}, "mark": {"type": "rect", "filled": false, "stroke": "#ff1a1a", "strokeWidth": 1.6, "strokeDash": [6, 4]}, "encoding": {"x": {"field": "t0", "type": "quantitative", "title": "Time (ms)"}, "x2": {"field": "t1"}, "y": {"field": "v0", "type": "quantitative", "title": "Potential (μV)"}, "y2": {"field": "v1"}}}
          ]
        },
        {
          "width": 220, "height": 204,
          "title": {"text": "ERP-Cz", "fontSize": 12.5},
          "data": {"name": "crystalG"},
          "encoding": {"x": {"field": "t", "type": "quantitative", "title": "Time (ms)", "scale": {"domain": [-500, 1000], "nice": false, "zero": false}, "axis": {"values": [-250, 250, 500, 750]}}},
          "layer": [
            {"transform": [{"filter": "datum.c === 'Body'"}], "mark": {"type": "area", "opacity": 0.4, "color": "#ff3030"}, "encoding": {"y": {"field": "lo", "type": "quantitative", "title": "Potential (μV)", "scale": {"domain": [-10, 25], "nice": false, "zero": false}, "axis": {"values": [-5, 5, 10, 15, 20]}}, "y2": {"field": "hi"}}},
            {"transform": [{"filter": "datum.c === 'World'"}], "mark": {"type": "area", "opacity": 0.4, "color": "#3030ff"}, "encoding": {"y": {"field": "lo", "type": "quantitative", "title": "Potential (μV)"}, "y2": {"field": "hi"}}},
            {"mark": {"type": "line", "strokeWidth": 1, "opacity": 0.85}, "encoding": {"y": {"field": "m", "type": "quantitative", "title": "Potential (μV)"}, "stroke": {"field": "c", "type": "nominal", "scale": {"domain": ["Body", "World"], "range": ["#ff2020", "#2020ff"]}, "legend": {"title": null}}}}
          ]
        },
        {
          "width": 220, "height": 204,
          "title": {"text": "ERP-Cz", "fontSize": 12.5},
          "data": {"name": "backG"},
          "encoding": {"x": {"field": "t", "type": "quantitative", "title": "Time (ms)", "scale": {"domain": [-500, 1000], "nice": false, "zero": false}, "axis": {"values": [-250, 250, 500, 750]}}},
          "layer": [
            {"transform": [{"filter": "datum.c === 'Body'"}], "mark": {"type": "area", "opacity": 0.4, "color": "#ff3030"}, "encoding": {"y": {"field": "lo", "type": "quantitative", "title": "Potential (μV)", "scale": {"domain": [-10, 25], "nice": false, "zero": false}, "axis": {"values": [-5, 5, 10, 15, 20]}}, "y2": {"field": "hi"}}},
            {"transform": [{"filter": "datum.c === 'World'"}], "mark": {"type": "area", "opacity": 0.4, "color": "#3030ff"}, "encoding": {"y": {"field": "lo", "type": "quantitative", "title": "Potential (μV)"}, "y2": {"field": "hi"}}},
            {"mark": {"type": "line", "strokeWidth": 1, "opacity": 0.85}, "encoding": {"y": {"field": "m", "type": "quantitative", "title": "Potential (μV)"}, "stroke": {"field": "c", "type": "nominal", "scale": {"domain": ["Body", "World"], "range": ["#ff2020", "#2020ff"]}, "legend": {"title": null}}}}
          ]
        }
      ]
    }
  ]
}
